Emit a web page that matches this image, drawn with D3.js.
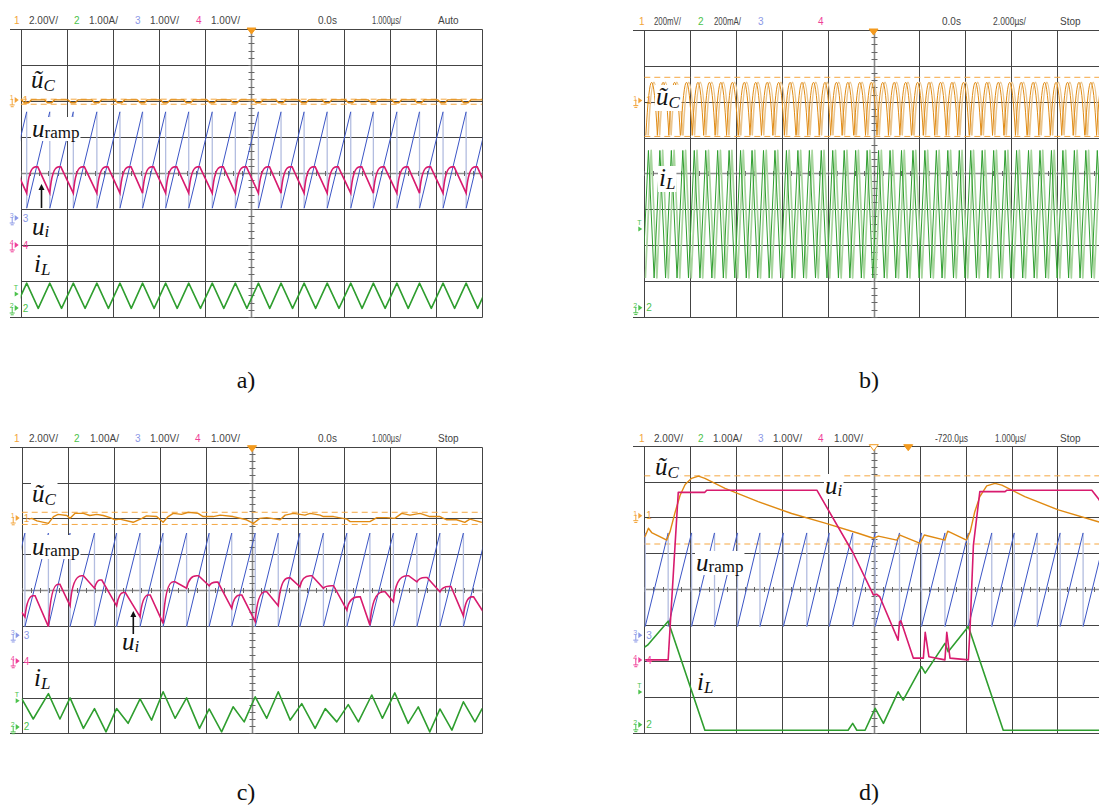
<!DOCTYPE html>
<html><head><meta charset="utf-8">
<script src="https://cdn.jsdelivr.net/npm/d3@7/dist/d3.min.js"></script>
<style>html,body{margin:0;padding:0;background:#fff;overflow:hidden}svg{display:block}</style>
</head><body>
<script>
// ================= DATA (time in divisions 0..10, amplitude in divisions -4..4) =================
const headA = ["1","2.00V/","2","1.00A/","3","1.00V/","4","1.00V/","0.0s","1.000µs/","Auto"];
const headB = ["1","200mV/","2","200mA/","3","4","0.0s","2.000µs/","Stop"];
const headC = ["1","2.00V/","2","1.00A/","3","1.00V/","4","1.00V/","0.0s","1.000µs/","Stop"];
const headD = ["1","2.00V/","2","1.00A/","3","1.00V/","4","1.00V/","-720.0µs","1.000µs/","Stop"];
const captions = ["a)","b)","c)","d)"];

// ---- panel a ----
const aResets = [-0.37,0.13,0.63,1.14,1.65,2.15,2.64,3.14,3.64,4.15,4.65,5.15,5.64,6.14,6.64,7.15,7.64,8.15,8.64,9.15,9.65,10.15];
const aRampRange = [-0.98, 1.70];
const aUiRange = [-0.56, 0.17];          // trough, peak
const aUiPeakDt = 0.19;
const aIlRange = [-3.76, -3.06];         // trough, peak
const aUcLevel = [2.03, 1.95];           // level, dip
const aUcBand = [2.05, 1.91];
const aMarkers = [["1",2.03],["3",-1.25],["4",-2.0],["T",-3.25],["2",-3.75]];

// ---- panel b ----
const bUcPeaks = [0.16,0.41,0.66,0.92,1.17,1.42,1.67,1.92,2.18,2.43,2.68,2.93,3.18,3.44,3.69,3.94,4.19,4.44,4.70,4.95,5.20,5.45,5.70,5.96,6.21,6.46,6.71,6.96,7.22,7.47,7.72,7.97,8.22,8.48,8.73,8.98,9.23,9.48,9.74,9.99];
const bUcRange = [1.06, 2.54];
const bUcBand = [1.03, 2.68];
const bIlPeaks = [0.09,0.34,0.59,0.84,1.09,1.34,1.60,1.85,2.10,2.35,2.60,2.85,3.10,3.35,3.60,3.86,4.11,4.36,4.61,4.86,5.11,5.36,5.61,5.86,6.12,6.37,6.62,6.87,7.12,7.37,7.62,7.87,8.12,8.38,8.63,8.88,9.13,9.38,9.63,9.88];
const bIlRange = [-2.92, 0.64];
const bMarkers = [["1",2.03],["T",-1.44],["2",-3.75]];

// ---- panel c ----
const cResets = [-0.43,0.07,0.58,1.05,1.58,2.06,2.57,3.07,3.58,4.07,4.56,5.07,5.57,6.04,6.55,7.06,7.56,8.07,8.58,9.08,9.59,10.09];
const cRampRange = [-1.02, 1.59];
const cUiTrough = [-0.75,-1.02,-0.44,0.05,-0.44,-0.75,-0.93,0.05,0.12,-0.51,-0.88,-0.44,0.09,0.05,-0.56,-0.98,-0.33,0.23,-0.05,-0.72];
const cUiPeak   = [-0.16,0.16,0.40,0.28,-0.07,-0.14,0.23,0.40,0.22,-0.14,-0.05,0.34,0.40,0.12,-0.19,-0.05,0.40,0.35,0.10,-0.19];
const cUiPeakDt = [0.18,0.21,0.25,0.12,0.15,0.18,0.22,0.22,0.15,0.18,0.21,0.22,0.22,0.18,0.25,0.29,0.29,0.18,0.20,0.18];
const cUiEnds = [-0.62, -0.75];
const cIl = [[0,-3.03],[0.25,-3.60],[0.58,-2.89],[0.83,-3.60],[1.05,-3.01],[1.34,-3.86],[1.58,-3.31],[1.83,-3.96],[2.06,-3.31],[2.31,-3.72],[2.57,-3.04],[2.82,-3.63],[3.07,-2.84],[3.33,-3.58],[3.58,-3.01],[3.86,-3.86],[4.07,-3.32],[4.34,-3.96],[4.59,-3.26],[4.83,-3.68],[5.07,-2.98],[5.32,-3.58],[5.57,-2.84],[5.83,-3.63],[6.08,-3.17],[6.37,-3.86],[6.59,-3.31],[6.84,-3.68],[7.09,-3.20],[7.31,-3.68],[7.60,-2.93],[7.83,-3.58],[8.10,-2.87],[8.39,-3.72],[8.61,-3.26],[8.86,-3.96],[9.08,-3.32],[9.34,-3.91],[9.59,-3.12],[9.84,-3.68],[10,-3.30]];
const cUc = [[0.15,1.98],[0.22,2.00],[0.33,1.93],[0.58,1.86],[0.69,2.05],[0.79,2.11],[0.98,2.08],[1.05,2.00],[1.16,2.14],[1.34,2.14],[1.48,2.08],[1.63,2.11],[1.77,2.08],[1.92,2.02],[2.03,1.96],[2.13,1.98],[2.42,1.89],[2.61,2.00],[2.71,2.07],[2.93,2.05],[3.07,1.89],[3.18,2.05],[3.29,2.14],[3.47,2.11],[3.62,2.17],[3.83,2.14],[3.94,2.05],[4.16,2.05],[4.31,2.09],[4.59,2.05],[4.88,1.96],[5.03,1.86],[5.17,2.00],[5.32,2.02],[5.61,1.96],[5.72,2.09],[5.90,2.14],[6.15,2.09],[6.26,2.14],[6.48,2.09],[6.55,2.05],[6.77,2.05],[7.06,1.98],[7.13,1.91],[7.34,1.91],[7.56,1.91],[7.71,2.02],[7.92,2.02],[8.10,2.00],[8.25,2.14],[8.43,2.09],[8.65,2.14],[8.86,2.05],[9.08,2.05],[9.23,1.96],[9.44,1.96],[9.62,1.89],[9.73,1.98],[9.99,1.89]];
const cUcBand = [1.83, 2.17];
const cMarkers = [["1",2.01],["3",-1.26],["4",-1.98],["T",-2.98],["2",-3.82]];

// ---- panel d ----
const dResets = [-0.48,0.02,0.52,1.03,1.53,2.03,2.52,3.03,3.54,4.03,4.54,5.03,5.56,6.04,6.55,7.06,7.57,8.06,8.56,9.06,9.56,10.06];
const dRampRange = [-1.04, 1.57];
const dUc = [[0,1.45],[0.03,1.51],[0.09,1.70],[0.16,1.58],[0.49,1.37],[0.56,1.60],[0.67,2.14],[0.78,2.62],[0.89,2.92],[1.03,3.09],[1.18,3.15],[1.32,3.09],[1.76,2.81],[2.48,2.44],[3.21,2.11],[3.94,1.84],[4.66,1.56],[4.99,1.42],[5.10,1.48],[5.50,1.37],[5.57,1.51],[6.01,1.28],[6.10,1.51],[6.55,1.37],[6.61,1.62],[7.02,1.37],[7.10,1.60],[7.20,2.16],[7.31,2.58],[7.46,2.88],[7.64,2.95],[7.79,2.90],[8.29,2.58],[9.02,2.21],[9.89,1.88],[10,1.84]];
const dUi = [[0.02,-1.97],[0.52,-1.97],[0.56,-1.10],[0.67,1.23],[0.74,2.70],[1.32,2.70],[1.36,2.76],[3.76,2.76],[4.55,1.01],[4.99,-0.16],[5.06,-0.14],[5.13,-0.21],[5.53,-1.42],[5.56,-0.91],[5.59,-0.88],[5.86,-1.92],[6.08,-1.92],[6.12,-1.20],[6.20,-1.88],[6.55,-1.97],[6.59,-1.20],[6.66,-1.92],[7.06,-1.97],[7.10,-1.00],[7.17,1.23],[7.31,2.72],[7.86,2.72],[7.90,2.76],[9.75,2.76],[9.89,2.53],[10,2.30]];
const dIl = [[0,-1.62],[0.07,-1.56],[0.52,-0.89],[1.32,-3.93],[4.44,-3.93],[4.54,-3.74],[4.63,-3.93],[4.81,-3.93],[5.03,-3.32],[5.21,-3.74],[5.53,-2.86],[5.64,-3.09],[6.04,-2.16],[6.12,-2.34],[6.55,-1.51],[6.62,-1.74],[7.06,-1.04],[7.82,-3.93],[10,-3.93]];
const dUcBand = [1.26, 3.16];
const dTrigT = 5.75;
const dMarkers = [["1",2.05],["3",-1.28],["4",-1.97],["T",-2.75],["2",-3.78]];

// ================= RENDERING =================
const svg = d3.select("body").append("svg").attr("width",1099).attr("height",805).style("background","#fff");
const defs = svg.append("defs");
const COL = {
  orange:"#e08a12", orangeLight:"#ecc68e", orangeDash:"#f5a742",
  green:"#2f9e2f", greenLight:"#a9d69f",
  blue:"#3b55c6", blueLight:"#b3bde0",
  pink:"#d81b6e",
  grid:"#444", gridCenter:"#8a8a8a", head:"#444",
  ch:{"1":"#f2a43a","2":"#4cc24c","3":"#8b98e6","4":"#ef3f98","T":"#4cc24c"}
};
const SERIF = "'Liberation Serif','Times New Roman',serif";
const SANS = "'Liberation Sans',Arial,sans-serif";

function setupPanel(cfg){
  const x = d3.scaleLinear().domain([0,10]).range([cfg.x0, cfg.x0+10*cfg.dx]);
  const y = d3.scaleLinear().domain([-4,4]).range([cfg.y0+8*cfg.dy, cfg.y0]);
  const cx = v => Math.round(x(v))+0.5, cy = v => Math.round(y(v))+0.5;
  const g = svg.append("g");
  g.selectAll(null).data(d3.range(0,11)).join("line")
    .attr("x1",cx).attr("x2",cx).attr("y1",cy(4)).attr("y2",cy(-4))
    .attr("stroke",d=>d===5?COL.gridCenter:COL.grid).attr("stroke-width",d=>d===5?1.6:1);
  g.selectAll(null).data(d3.range(-3,4)).join("line")
    .attr("x1",cx(0)).attr("x2",cx(10)).attr("y1",cy).attr("y2",cy)
    .attr("stroke",d=>d===0?COL.gridCenter:COL.grid).attr("stroke-width",d=>d===0?1.3:1);
  g.selectAll(null).data([4,-4]).join("line")
    .attr("x1",cfg.frameLeft).attr("x2",cx(10)).attr("y1",cy).attr("y2",cy)
    .attr("stroke",COL.grid).attr("stroke-width",1.2);
  g.selectAll(null).data(d3.range(-20,21).map(i=>i/5)).join("line")
    .attr("x1",cx(5)-3).attr("x2",cx(5)+3).attr("y1",d=>cy(d)).attr("y2",d=>cy(d))
    .attr("stroke","#666").attr("stroke-width",1);
  g.selectAll(null).data(d3.range(0,51).map(i=>i/5)).join("line")
    .attr("x1",d=>cx(d)).attr("x2",d=>cx(d)).attr("y1",cy(0)-2.5).attr("y2",cy(0)+2.5)
    .attr("stroke","#666").attr("stroke-width",1);
  defs.append("clipPath").attr("id","clip-"+cfg.id).append("rect")
    .attr("x",x(0)).attr("y",y(4)).attr("width",x(10)-x(0)).attr("height",y(-4)-y(4));
  const tg = g.append("g").attr("clip-path",`url(#clip-${cfg.id})`);
  return {x,y,g,tg};
}
function path(P, d, color, w, curve){
  const ln = d3.line().x(p=>P.x(p[0])).y(p=>P.y(p[1]));
  if(curve) ln.curve(curve);
  P.tg.append("path").attr("d",ln(d)).attr("fill","none").attr("stroke",color)
    .attr("stroke-width",w).attr("stroke-linejoin","round");
}
function bands(P, vals){
  P.tg.selectAll(null).data(vals).join("line").attr("x1",P.x(0)).attr("x2",P.x(10))
    .attr("y1",d=>P.y(d)).attr("y2",d=>P.y(d)).attr("stroke",COL.orangeDash)
    .attr("stroke-width",1).attr("stroke-dasharray","6,4");
}
function ramp(P, resets, rng){
  P.tg.selectAll(null).data(resets).join("line")
    .attr("x1",d=>P.x(d)).attr("x2",d=>P.x(d)).attr("y1",P.y(rng[1])).attr("y2",P.y(rng[0]))
    .attr("stroke",COL.blueLight).attr("stroke-width",1.3);
  P.tg.selectAll(null).data(d3.pairs(resets)).join("line")
    .attr("x1",d=>P.x(d[0])).attr("y1",P.y(rng[0])).attr("x2",d=>P.x(d[1])).attr("y2",P.y(rng[1]))
    .attr("stroke",COL.blue).attr("stroke-width",1);
}
function markers(P, list){
  const xl = P.x(0);
  list.forEach(([k,v])=>{
    const yy = P.y(v), col = COL.ch[k];
    if(k==="T"){
      svg.append("text").attr("x",xl-7).attr("y",yy).text("T").attr("font-family",SANS).attr("font-size",7).attr("fill",col);
      svg.append("path").attr("d",`M${xl-6},${yy+1.5}L${xl-2},${yy+4}L${xl-6},${yy+6.5}Z`).attr("fill",col);
    } else {
      svg.append("text").attr("x",xl-11).attr("y",yy).text(k).attr("font-family",SANS).attr("font-size",7).attr("fill",col);
      svg.append("path").attr("d",`M${xl-8.5},${yy-1}V${yy+5}M${xl-11},${yy+5}H${xl-6}M${xl-10},${yy+6.8}H${xl-7}`)
        .attr("stroke",col).attr("stroke-width",1).attr("fill","none");
      svg.append("path").attr("d",`M${xl-6},${yy-3}L${xl-2},${yy}L${xl-6},${yy+3}Z`).attr("fill",col);
      svg.append("text").attr("x",xl+2).attr("y",yy+3.6).text(k).attr("font-family",SANS).attr("font-size",10).attr("fill",col);
    }
  });
}
function header(tokens, xs, yb, widths){
  tokens.forEach((t,i)=>{
    const el = svg.append("text").attr("x",xs[i]).attr("y",yb).text(t)
      .attr("font-family",SANS).attr("font-size",10)
      .attr("fill",/^[1-4]$/.test(t)?COL.ch[t]:COL.head);
    if(widths[i]) el.attr("textLength",widths[i]).attr("lengthAdjust","spacingAndGlyphs");
  });
}
function trigger(P, t, hollow){
  const px = P.x(t), py = P.y(4);
  svg.append("path").attr("d",`M${px-4.5},${py-1}L${px+4.5},${py-1}L${px},${py+5}Z`)
    .attr("fill",hollow?"#fff":"#f39a1e").attr("stroke","#f39a1e").attr("stroke-width",1);
}
function label(x, y, parts){
  const t = svg.append("text").attr("x",x).attr("y",y).attr("font-family",SERIF).attr("fill","#111");
  parts.forEach(p=>t.append("tspan").text(p.t).attr("font-size",p.s)
    .attr("font-style",p.i?"italic":"normal").attr("dy",p.dy||0));
  const bb = t.node().getBBox();
  svg.insert("rect",()=>t.node()).attr("x",bb.x-1).attr("y",bb.y+2).attr("width",bb.width+2)
    .attr("height",bb.height-3).attr("fill","#fff");
}
function arrowUp(x, y1, y2){
  svg.append("line").attr("x1",x).attr("x2",x).attr("y1",y1).attr("y2",y2+5).attr("stroke","#111").attr("stroke-width",1.6);
  svg.append("path").attr("d",`M${x-3},${y2+6}L${x},${y2}L${x+3},${y2+6}Z`).attr("fill","#111");
}
const UC = [{t:"ũ",s:25,i:true},{t:"C",s:17,i:true,dy:3}];
const URAMP = [{t:"u",s:25,i:true},{t:"ramp",s:17,i:false,dy:1}];
const UI = [{t:"u",s:25,i:true},{t:"i",s:17,i:true,dy:2}];
const IL = [{t:"i",s:25,i:true},{t:"L",s:17,i:true,dy:3}];

// ---------- Panel a ----------
const A = setupPanel({id:"a", x0:20.7, y0:29, dx:46.16, dy:36, frameLeft:10});
bands(A, aUcBand);
ramp(A, aResets, aRampRange);
{
  const pts = [];
  d3.pairs(aResets).forEach(([r,rn])=>{ pts.push([r,aIlRange[1]],[(r+rn)/2,aIlRange[0]]); });
  pts.push([aResets[aResets.length-1],aIlRange[1]]);
  path(A, pts, COL.green, 1.6);
  const up = [];
  aResets.forEach(r=>{ up.push([r-0.11,aUcLevel[0]],[r-0.05,aUcLevel[1]],[r+0.04,aUcLevel[1]],[r+0.1,aUcLevel[0]]); });
  path(A, up, COL.orange, 1.4);
  const p = d3.path();
  d3.pairs(aResets).forEach(([r,rn],i)=>{
    if(i===0) p.moveTo(A.x(r),A.y(aUiRange[0]));
    p.quadraticCurveTo(A.x(r+0.05),A.y(aUiRange[1]),A.x(r+aUiPeakDt),A.y(aUiRange[1]));
    p.lineTo(A.x(r+aUiPeakDt+0.05),A.y(aUiRange[1]));
    p.lineTo(A.x(rn),A.y(aUiRange[0]));
  });
  A.tg.append("path").attr("d",p.toString()).attr("fill","none").attr("stroke",COL.pink).attr("stroke-width",1.6);
}

// ---------- Panel b ----------
const B = setupPanel({id:"b", x0:644.3, y0:30, dx:45.85, dy:35.84, frameLeft:633});
bands(B, bUcBand);
function archPath(P, peaks, rng, off){
  const p = d3.path(), h = 0.126, ctrl = 2*rng[1]-rng[0];
  peaks.forEach(t=>{ p.moveTo(P.x(t+off-h),P.y(rng[0])); p.quadraticCurveTo(P.x(t+off),P.y(ctrl),P.x(t+off+h),P.y(rng[0])); });
  return p.toString();
}
B.tg.append("path").attr("d",archPath(B,bUcPeaks,bUcRange,0.05)).attr("fill","none").attr("stroke",COL.orangeLight).attr("stroke-width",1.6);
B.tg.append("path").attr("d",archPath(B,bUcPeaks,bUcRange,0)).attr("fill","none").attr("stroke",COL.orange).attr("stroke-width",1);
{
  const zz = off => { const a=[]; bIlPeaks.forEach(t=>{ a.push([t+off-0.126,bIlRange[0]],[t+off,bIlRange[1]]); }); a.push([bIlPeaks[bIlPeaks.length-1]+off+0.126,bIlRange[0]]); return a; };
  path(B, zz(0.06), COL.greenLight, 1.7);
  path(B, zz(0), COL.green, 1);
}

// ---------- Panel c ----------
const Cp = setupPanel({id:"c", x0:21.7, y0:446.7, dx:46.06, dy:35.83, frameLeft:10});
bands(Cp, cUcBand);
ramp(Cp, cResets, cRampRange);
path(Cp, cIl, COL.green, 1.6);
path(Cp, cUc, COL.orange, 1.4);
{
  const p = d3.path();
  p.moveTo(Cp.x(0),Cp.y(cUiEnds[0]));
  const rs = cResets.slice(1);
  cUiTrough.forEach((tr,i)=>{
    const r = rs[i], rn = rs[i+1], pk = cUiPeak[i], dt = cUiPeakDt[i];
    p.lineTo(Cp.x(r),Cp.y(tr));
    p.quadraticCurveTo(Cp.x(r+0.05),Cp.y(pk),Cp.x(r+dt),Cp.y(pk));
    p.lineTo(Cp.x(r+dt+0.04),Cp.y(pk));
    if(i===cUiTrough.length-1) p.lineTo(Cp.x(rn),Cp.y(cUiEnds[1]));
  });
  Cp.tg.append("path").attr("d",p.toString()).attr("fill","none").attr("stroke",COL.pink).attr("stroke-width",1.6);
}

// ---------- Panel d ----------
const D = setupPanel({id:"d", x0:644.3, y0:445.7, dx:45.9, dy:35.88, frameLeft:633});
bands(D, dUcBand);
ramp(D, dResets, dRampRange);
path(D, dIl, COL.green, 1.6);
path(D, dUc, COL.orange, 1.4);
path(D, dUi, COL.pink, 1.6);

// ---------- markers, headers, labels ----------
markers(A, aMarkers); markers(B, bMarkers); markers(Cp, cMarkers); markers(D, dMarkers);
header(headA, [14,29,74,89,135,150,196,211,318,372,438], 24, {9:29});
header(headB, [639,654,698,714,758,818,942,993,1060], 25, {1:27,3:27,7:33});
header(headC, [14,29,74,90,135,150,195,211,318,372,438], 441.5, {9:29});
header(headD, [639,654,698,713,758,773,818,834,935,995,1060], 441.5, {8:33,9:31});
trigger(A,5,false); trigger(B,5,false); trigger(Cp,5,false); trigger(D,5,true); trigger(D,dTrigT,false);

label(31,88,UC); label(32,137,URAMP); label(32,235,UI); label(34,272,IL);
arrowUp(41.5,208,184);
label(656,105,UC); label(659,186,IL);
label(32,502,UC); label(32,555,URAMP); label(122,650,UI); label(34,686,IL);
arrowUp(133.3,634,611);
label(655,475,UC); label(825,494,UI); label(696,571,URAMP); label(697,690,IL);

svg.selectAll(null).data(captions).join("text")
  .attr("x",(d,i)=>i%2===0?246:869).attr("y",(d,i)=>i<2?388:800)
  .attr("text-anchor","middle").attr("font-family",SERIF).attr("font-size",24).attr("fill","#111")
  .text(d=>d);
</script></body></html>
